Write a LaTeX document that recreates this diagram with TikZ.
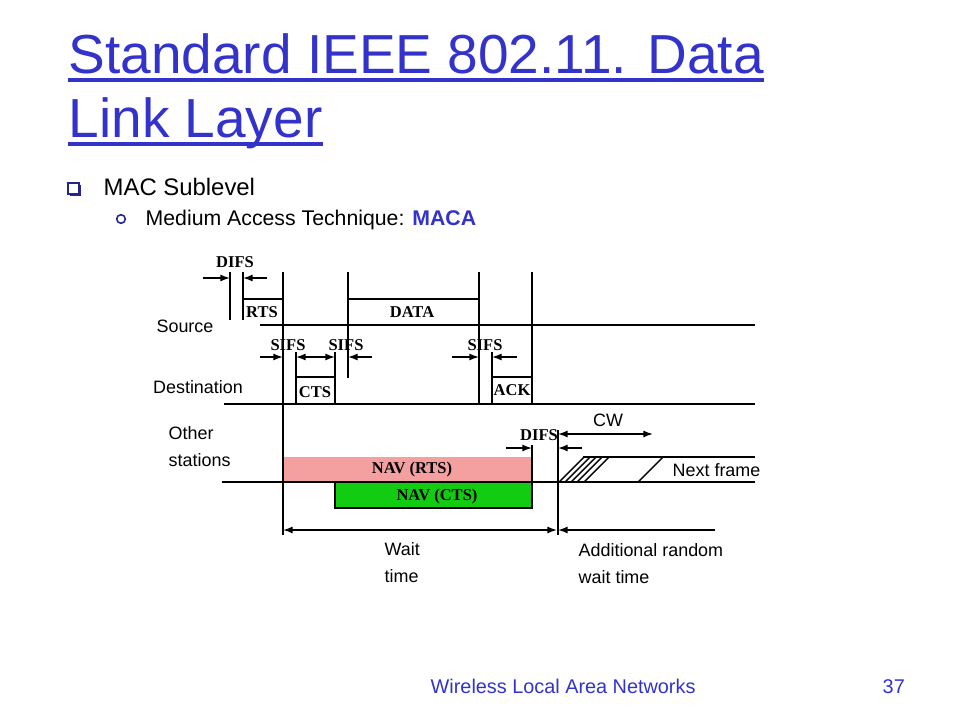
\documentclass[tikz,border=0pt]{standalone}
\usepackage{fontspec}
\setmainfont{Liberation Sans}
\newfontfamily\timesfont{Liberation Serif}
\usetikzlibrary{positioning, calc, arrows.meta}
\definecolor{slideblue}{RGB}{51,51,204}
\definecolor{navpink}{RGB}{244,160,160}
\definecolor{navgreen}{RGB}{17,204,17}
\tikzset{
  frm/.style={font=\timesfont\bfseries\fontsize{9.4}{10}\selectfont, inner sep=0pt},
  stn/.style={font=\fontsize{10.2}{15.3}\selectfont, inner sep=0pt, align=left},
  gap/.style={-{Latex[length=5.5pt,width=4pt]}, line width=0.8pt},
  span/.style={{Latex[length=5.5pt,width=4pt]}-{Latex[length=5.5pt,width=4pt]}, line width=0.8pt},
  tline/.style={line width=1.2pt},
}
\begin{document}
\begin{tikzpicture}[x=0.02cm, y=-0.02cm, line width=0.8pt]
  \useasboundingbox (0,0) rectangle (960,720);
  % title and bullets
  \node[anchor=base west, inner sep=0pt, text=slideblue, font=\fontsize{31.3}{36}\selectfont] (t1) at (68,73) {Standard IEEE 802.11. Data};
  \node[anchor=base west, inner sep=0pt, text=slideblue, font=\fontsize{31.3}{36}\selectfont] (t2) at (68,137) {Link Layer};
  \draw[slideblue, line width=2pt] ($(t1.base west)+(0,7)$) -- ($(t1.base east)+(0,7)$);
  \draw[slideblue, line width=2pt] ($(t2.base west)+(0,7)$) -- ($(t2.base east)+(0,7)$);
  \draw[slideblue!70!black, line width=0.8pt] (68,183) rectangle (79,194);
  \draw[slideblue!70!black, line width=1.1pt] (70,195) -- (80,195) -- (80,185);
  \node[anchor=base west, inner sep=0pt, font=\fontsize{13.6}{16}\selectfont] (b1) at (103,195) {MAC Sublevel};
  \draw[slideblue!70!black, line width=0.9pt] (121,219) circle[radius=4.3];
  \node[anchor=base west, inner sep=0pt, font=\fontsize{12.1}{14}\selectfont] (b2) at (145,225) {Medium Access Technique: \textcolor{slideblue}{\bfseries MACA}};
  % footer
  \node[anchor=base west, inner sep=0pt, text=slideblue, font=\fontsize{11.3}{13}\selectfont] (foot) at (430,693) {Wireless Local Area Networks};
  \node[anchor=base west, inner sep=0pt, text=slideblue, font=\fontsize{11.3}{13}\selectfont] (page) at (882,693) {37};

  % NAV boxes
  \fill[navpink] (283,457) rectangle (532,482);
  \draw[fill=navgreen] (335,482) rectangle (532,508);
  \node[frm] (navr) at (412,470) {NAV (RTS)};
  \node[frm] (navc) at (437,497) {NAV (CTS)};

  % time lines
  \draw[tline] (260,325) -- (755,325);
  \draw[tline] (224,404) -- (755,404);
  \draw[tline] (222,482) -- (755,482);
  \draw[tline] (583,457) -- (755,457);
  \node[stn] (src) at (185,326) {Source};
  \node[stn] (dst) at (198,387) {Destination};
  \node[stn, anchor=west] (oth) at (168,447) {Other\\stations};

  % source frames
  \draw (230,272) -- (230,320);
  \draw (243,272) -- (243,320) (243,299) -- (283,299);
  \draw (283,272) -- (283,535);
  \draw (348,272) -- (348,378) (348,299) -- (479,299);
  \draw (479,272) -- (479,404);
  \draw (532,272) -- (532,404);
  \node[frm] (rts) at (262,312) {RTS};
  \node[frm] (data) at (412,312) {DATA};
  \node[frm] (difs1) at (235,262) {DIFS};
  \draw[gap] (203,278) -- (230,278);
  \draw[gap] (267,278) -- (243,278);

  % destination frames
  \draw (296,352) -- (296,404) (296,377) -- (335,377) (335,352) -- (335,404);
  \draw (492,352) -- (492,404) (492,377) -- (532,377);
  \node[frm] (cts) at (315,392) {CTS};
  \node[frm] (ack) at (512,390) {ACK};
  \node[frm] (sifs1) at (288,345) {SIFS};
  \node[frm] (sifs2) at (346,345) {SIFS};
  \node[frm] (sifs3) at (485,345) {SIFS};
  \draw[gap] (260,357) -- (283,357);
  \draw[span] (296,357) -- (335,357);
  \draw[gap] (372,357) -- (348,357);
  \draw[gap] (452,357) -- (479,357);
  \draw[gap] (517,357) -- (492,357);

  % other stations
  \draw (532,445) -- (532,508);
  \draw (558,430) -- (558,535);
  \node[frm] (difs2) at (539,435) {DIFS};
  \draw[gap] (506,448) -- (532,448);
  \draw[gap] (582,448) -- (558,448);
  \node[stn] (cw) at (608,420) {CW};
  \draw[span] (558,434) -- (653,434);
  \foreach \b in {559,565,571,577,584}
    \draw (\b,482) -- ++(25,-25);
  \draw (638,482) -- (663,457);
  \node[stn, anchor=west] (next) at (672,470) {Next frame};

  % waiting
  \draw[span] (283,530) -- (557,530);
  \draw[gap] (715,530) -- (558,530);
  \node[stn, anchor=west] (wait) at (384,563) {Wait\\time};
  \node[stn, anchor=west] (rand) at (578,564) {Additional random\\wait time};
\end{tikzpicture}
\end{document}
